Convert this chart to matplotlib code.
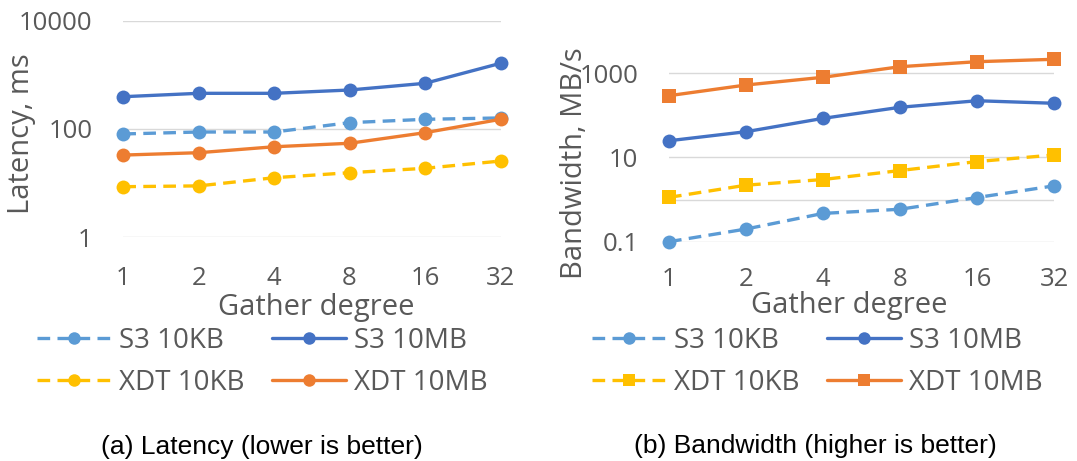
import numpy as np
import matplotlib
matplotlib.use('Agg')
import matplotlib.pyplot as plt
from matplotlib.ticker import FixedLocator, NullFormatter

# gather degree categories
degrees = ['1', '2', '4', '8', '16', '32']

# latency, ms (log scale)
lat_s3_10kb = [81, 88, 88, 131, 151, 160]
lat_s3_10mb = [395, 456, 456, 525, 698, 1634]
lat_xdt_10kb = [8.6, 8.9, 12.6, 15.6, 18.8, 25.6]
lat_xdt_10mb = [33, 36.5, 47, 54.5, 85.5, 151]

# bandwidth, MB/s (log scale)
bw_s3_10kb = [0.1, 0.2, 0.47, 0.59, 1.12, 2.12]
bw_s3_10mb = [25, 41, 85, 156, 223, 194]
bw_xdt_10kb = [1.13, 2.2, 3.0, 4.9, 8.0, 11.5]
bw_xdt_10mb = [294, 527, 804, 1434, 1887, 2150]

series_names = ['S3 10KB', 'S3 10MB', 'XDT 10KB', 'XDT 10MB']
colors = ['#5B9BD5', '#4472C4', '#FFC000', '#ED7D31']
dashed = [True, False, True, False]

W, H = 1077, 461
TXT = '#595959'
TFONT = 'Open Sans'
CFONT = 'Liberation Sans'


def px_axes(fig, x0, y0, x1, y1):
    # axes from pixel box (top-left origin)
    return fig.add_axes([x0 / W, 1 - y1 / H, (x1 - x0) / W, (y1 - y0) / H])


def draw_panel(ax, data, markers):
    xs = np.arange(len(degrees))
    handles = []
    for vals, name, c, d, m in zip(data, series_names, colors, dashed, markers):
        ln, = ax.plot(xs, vals, color=c, lw=2.4, marker=m, markersize=10,
                      markeredgewidth=0, label=name, clip_on=False,
                      solid_capstyle='round', dash_capstyle='butt')
        if d:
            ln.set_dashes((3.8, 2.2))
        handles.append(ln)
    ax.set_yscale('log')
    ax.set_xlim(0, len(degrees) - 1)
    ax.set_xticks(xs)
    ax.set_xticklabels(degrees)
    for s in ax.spines.values():
        s.set_visible(False)
    ax.tick_params(axis='both', which='both', length=0, colors=TXT, labelsize=18.5)
    ax.tick_params(axis='y', pad=22)
    for lab in ax.get_xticklabels() + ax.get_yticklabels():
        lab.set_fontfamily(TFONT)
    ax.grid(True, which='both', axis='y', color='#D9D9D9', lw=1.0)
    ax.set_axisbelow(True)
    return handles


fig = plt.figure(figsize=(W / 100, H / 100), dpi=100)

# (a) latency
ax1 = px_axes(fig, 123.3, 20.7, 500.5, 237.3)
h1 = draw_panel(ax1, [lat_s3_10kb, lat_s3_10mb, lat_xdt_10kb, lat_xdt_10mb],
                ['o', 'o', 'o', 'o'])
ax1.tick_params(axis='x', pad=21)
ax1.set_ylim(1, 10000)
ax1.yaxis.set_major_locator(FixedLocator([1, 100, 10000]))
ax1.yaxis.set_minor_locator(FixedLocator([]))
ax1.set_yticklabels(['1', '100', '10000'])
for lab in ax1.get_yticklabels():
    lab.set_fontfamily(TFONT)

# (b) bandwidth
ax2 = px_axes(fig, 669, 73.3 - 42.1 * np.log10(5), 1054, 241.7)
h2 = draw_panel(ax2, [bw_s3_10kb, bw_s3_10mb, bw_xdt_10kb, bw_xdt_10mb],
                ['o', 'o', 's', 's'])
ax2.tick_params(axis='x', pad=18)
ax2.set_ylim(0.1, 5000)
ax2.yaxis.set_major_locator(FixedLocator([0.1, 10, 1000]))
ax2.yaxis.set_minor_locator(FixedLocator([1]))
ax2.yaxis.set_minor_formatter(NullFormatter())
ax2.set_yticklabels(['0.1', '10', '1000'])
for lab in ax2.get_yticklabels():
    lab.set_fontfamily(TFONT)

# axis titles
fig.text(22 / W, 1 - 134 / H, 'Latency, ms', rotation=90, ha='center', va='center',
         fontsize=21, color=TXT, family=TFONT)
fig.text(574 / W, 1 - 163 / H, 'Bandwidth, MB/s', rotation=90, ha='center', va='center',
         fontsize=21, color=TXT, family=TFONT)
fig.text(316 / W, 1 - 307 / H, 'Gather degree', ha='center', va='center',
         fontsize=21, color=TXT, family=TFONT)
fig.text(849 / W, 1 - 305 / H, 'Gather degree', ha='center', va='center',
         fontsize=21, color=TXT, family=TFONT)

# legends, filled row by row like the original (2 columns)
for handles, x0 in [(h1, 37), (h2, 592)]:
    ordered = [handles[0], handles[2], handles[1], handles[3]]
    leg = fig.legend(handles=ordered, ncol=2, loc='upper left',
                     bbox_to_anchor=(x0 / W, 1 - 327 / H), bbox_transform=fig.transFigure,
                     frameon=False, borderpad=0, borderaxespad=0,
                     handlelength=2.66, handletextpad=0.29, columnspacing=1.0,
                     labelspacing=0.5, markerscale=0.9,
                     prop={'family': TFONT, 'size': 20})
    for t in leg.get_texts():
        t.set_color(TXT)

# captions
fig.text(262 / W, 1 - 447 / H, '(a) Latency (lower is better)', ha='center', va='center',
         fontsize=19, color='black', family=CFONT)
fig.text(815 / W, 1 - 446 / H, '(b) Bandwidth (higher is better)', ha='center', va='center',
         fontsize=19, color='black', family=CFONT)

fig.savefig('out.png', dpi=100)
